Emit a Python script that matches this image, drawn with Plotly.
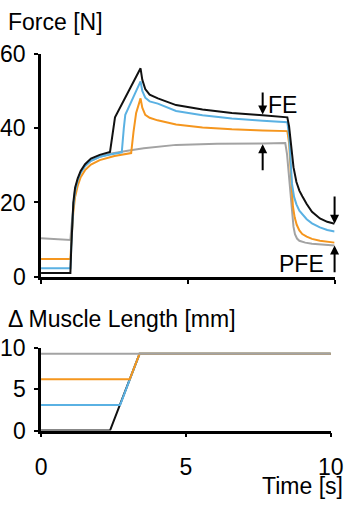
import plotly.graph_objects as go

# ---- Force data (top panel) ----
t_black = [0, 1.0, 1.03, 1.07, 1.1, 1.16, 1.25, 1.35, 1.5, 1.7, 2.0, 2.35, 2.45, 2.52, 3.39, 3.45, 3.55, 3.7, 3.98, 4.3, 4.6, 5.5, 6.5, 7.55, 8.39,
           8.45, 8.52, 8.6, 8.7, 8.8, 8.9, 9.05, 9.23, 9.5, 9.75, 10.0]
f_black = [1.0, 1.0, 8, 16, 20, 24, 26.5, 28.5, 30.3, 31.8, 32.8, 33.6, 39, 42.9, 56.1, 53, 50.5, 49, 48.0, 47.0, 46.2, 45.0, 44.1, 43.5, 42.9,
           40.5, 35, 29.5, 25.5, 23.2, 21.7, 19.6, 17.5, 15.7, 14.8, 14.3]

t_blue = [0, 1.0, 1.03, 1.07, 1.1, 1.16, 1.25, 1.35, 1.5, 1.7, 2.0, 2.4, 2.75, 2.82, 2.87, 3.39, 3.45, 3.55, 3.7, 3.98, 4.6, 5.5, 6.5, 7.55, 8.39,
          8.45, 8.5, 8.55, 8.62, 8.7, 8.8, 8.9, 9.05, 9.23, 9.5, 9.75, 10.0]
f_blue = [2.3, 2.3, 8, 15, 19, 23, 26, 28, 29.8, 31.2, 32.3, 33.0, 33.5, 40, 43.6, 52.6, 50, 48.2, 47.2, 46.6, 44.6, 43.5, 42.6, 42.0, 41.6,
          38, 31, 25, 21.5, 19.5, 17.8, 16.8, 15.5, 14.4, 13.3, 12.6, 12.2]

t_orange = [0, 1.0, 1.03, 1.07, 1.1, 1.16, 1.25, 1.35, 1.5, 1.7, 2.0, 2.5, 3.07, 3.15, 3.24, 3.39, 3.45, 3.55, 3.7, 3.97, 4.6, 5.5, 6.5, 7.55, 8.39,
            8.45, 8.5, 8.53, 8.58, 8.64, 8.71, 8.8, 8.9, 9.05, 9.23, 9.5, 9.75, 10.0]
f_orange = [4.8, 4.8, 9, 14, 17.5, 21.5, 24.5, 26.8, 28.7, 30.2, 31.4, 32.5, 33.3, 39, 44.1, 48.0, 45.5, 43.6, 42.8, 42.1, 41.0, 40.2, 39.7, 39.4, 39.2,
            36, 30, 26, 19, 16, 14, 12.5, 11.5, 10.8, 10.2, 9.7, 9.4, 9.2]

t_gray = [0, 1.0, 1.03, 1.07, 1.1, 1.16, 1.25, 1.35, 1.5, 1.7, 2.0, 2.4, 3.0, 3.5, 4.6, 6.0, 7.55, 8.32,
          8.38, 8.43, 8.48, 8.52, 8.55, 8.6, 8.65, 8.72, 8.8, 9.0, 9.23, 9.6, 10.0]
f_gray = [10.4, 9.9, 13, 17, 20, 23.5, 26, 28, 29.8, 31.2, 32.3, 33.2, 34.0, 34.6, 35.5, 35.8, 35.9, 36.0,
          33, 28, 24, 19.5, 16.6, 13.5, 11.5, 10.3, 9.7, 9.2, 8.9, 8.6, 8.4]

# ---- Muscle length data (bottom panel) ----
lt_black = [0, 2.38, 3.40, 10]
l_black = [0, 0, 9.3, 9.3]
lt_blue = [0, 2.73, 3.40, 10]
l_blue = [3.1, 3.1, 9.3, 9.3]
lt_orange = [0, 3.06, 3.40, 10]
l_orange = [6.2, 6.2, 9.3, 9.3]
lt_gray = [0, 10]
l_gray = [9.3, 9.3]

force_ticks = [0, 20, 40, 60]
length_ticks = [0, 5, 10]
time_ticks = [0, 5, 10]

BLACK = "#111111"
BLUE = "#5ab1e3"
ORANGE = "#f5961e"
GRAY = "#a3a3a3"
FONT = "Liberation Sans, Arial, sans-serif"
FS = 23
W, H = 358, 510

fig = go.Figure()
for t, f, c in [(t_gray, f_gray, GRAY), (t_orange, f_orange, ORANGE), (t_blue, f_blue, BLUE), (t_black, f_black, BLACK)]:
    fig.add_trace(go.Scatter(x=t, y=f, mode="lines", line=dict(color=c, width=2), xaxis="x", yaxis="y", showlegend=False))
for t, l, c in [(lt_black, l_black, BLACK), (lt_blue, l_blue, BLUE), (lt_orange, l_orange, ORANGE), (lt_gray, l_gray, GRAY)]:
    fig.add_trace(go.Scatter(x=t, y=l, mode="lines", line=dict(color=c, width=2), xaxis="x2", yaxis="y2", showlegend=False))

axis_common = dict(showline=True, linecolor="black", linewidth=2.5, ticks="outside", ticklen=4, tickwidth=2,
                   tickcolor="black", showgrid=False, zeroline=False, fixedrange=True,
                   tickfont=dict(family=FONT, size=FS, color="black"))

def py(p):
    return 1 - p / H

fig.update_layout(
    width=W, height=H, margin=dict(l=0, r=0, t=0, b=0),
    paper_bgcolor="white", plot_bgcolor="white",
    font=dict(family=FONT, size=FS, color="black"),
    xaxis=dict(domain=[37 / W, 347 / W], range=[0, 10], anchor="y", tickvals=time_ticks, showticklabels=False, **axis_common),
    yaxis=dict(domain=[py(278), py(43)], range=[0, 60], anchor="x", tickvals=force_ticks, ticklabelstandoff=4, **axis_common),
    xaxis2=dict(domain=[37 / W, 343 / W], range=[0, 10], anchor="y2", tickvals=time_ticks, ticklabelstandoff=10, **axis_common),
    yaxis2=dict(domain=[py(440), py(353)], range=[0, 10], anchor="x2", tickvals=length_ticks, ticklabelstandoff=4, **axis_common),
)

txt = dict(showarrow=False, font=dict(family=FONT, size=FS, color="black"), xref="paper", yref="paper")
fig.add_annotation(text="Force [N]", x=0, y=py(10), xanchor="left", yanchor="middle", **txt)
fig.add_annotation(text="Δ Muscle Length [mm]", x=0, y=py(322), xanchor="left", yanchor="middle", **txt)
fig.add_annotation(text="Time [s]", x=1, y=py(498), xanchor="right", yanchor="middle", **txt)
fig.add_annotation(text="FE", x=275 / W, y=py(96.5), xanchor="left", yanchor="middle", **txt)
fig.add_annotation(text="PFE", x=286 / W, y=py(265), xanchor="left", yanchor="middle", **txt)

arrows = [
    (7.55, 43.7, 7.55, 50.0),
    (7.55, 35.7, 7.55, 28.3),
    (10.0, 14.3, 10.0, 22.0),
    (10.0, 8.4, 10.0, 0.8),
]
for x, y, ax, ay in arrows:
    fig.add_annotation(x=x, y=y, ax=ax, ay=ay, xref="x", yref="y", axref="x", ayref="y", text="",
                       showarrow=True, arrowhead=2, arrowsize=0.9, arrowwidth=2, arrowcolor="black", standoff=0)

fig.write_html("out.html", config={"displayModeBar": False},
               post_script="document.body.style.margin='0';document.body.style.padding='0';"
                           "document.documentElement.style.overflow='hidden';")
